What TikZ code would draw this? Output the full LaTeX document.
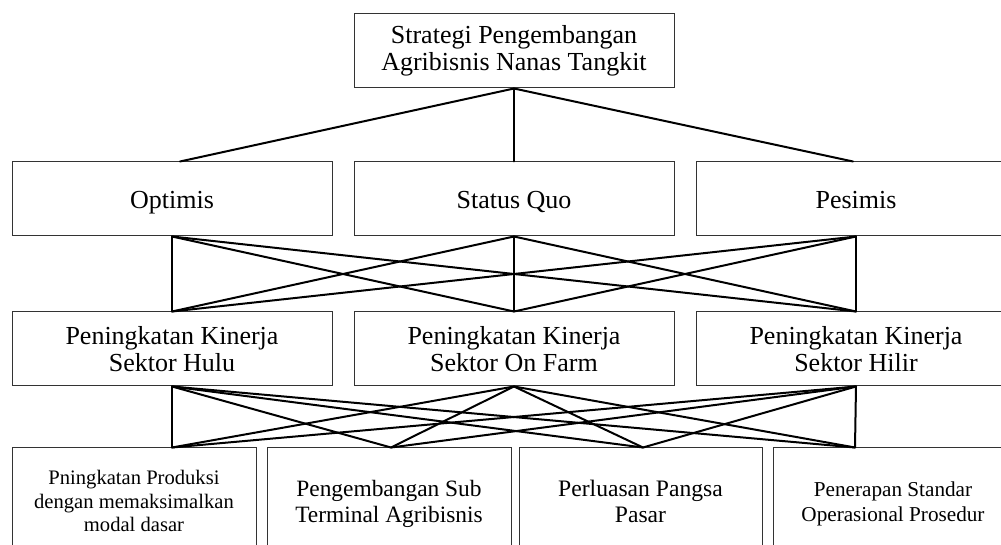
\documentclass[tikz,border=0pt]{standalone}
\usepackage{fontspec}
\setmainfont{Liberation Serif}
\newcommand{\pu}{0.75pt}
\tikzset{
  box/.style={draw=black!80, line width=0.75pt, inner sep=0pt, align=center},
  big/.style={font=\fontsize{19.5pt}{20.6pt}\selectfont},
  oneline/.style={text height=14pt, text depth=0pt},
  conn/.style={draw=black, line width=1.5pt, line cap=round, line join=round},
}
\begin{document}
\begin{tikzpicture}[x=0.75pt,y=-0.75pt]
\useasboundingbox (0,0) rectangle (1001,545);
\clip (0,0) rectangle (1001,545);
% level 1
\node[box,big,minimum width=320*\pu,minimum height=74*\pu] (T) at (514,51) {Strategi Pengembangan\\Agribisnis Nanas Tangkit};
% level 2
\node[box,big,oneline,minimum width=320*\pu,minimum height=74*\pu] (A) at (172,199) {Optimis};
\node[box,big,oneline,minimum width=320*\pu,minimum height=74*\pu] (B) at (514,199) {Status Quo};
\node[box,big,oneline,minimum width=320*\pu,minimum height=74*\pu] (C) at (856,199) {Pesimis};
% level 3
\node[box,big,minimum width=320*\pu,minimum height=74*\pu] (E) at (172,349) {Peningkatan Kinerja\\Sektor Hulu};
\node[box,big,minimum width=320*\pu,minimum height=74*\pu] (F) at (514,349) {Peningkatan Kinerja\\Sektor On Farm};
\node[box,big,minimum width=320*\pu,minimum height=74*\pu] (G) at (856,349) {Peningkatan Kinerja\\Sektor Hilir};
% level 4
\node[box,font=\fontsize{15.45pt}{17.5pt}\selectfont,minimum width=244*\pu,minimum height=106*\pu] (D1) at (134,501) {Pningkatan Produksi\\dengan memaksimalkan\\modal dasar};
\node[box,font=\fontsize{17.55pt}{19.5pt}\selectfont,minimum width=244*\pu,minimum height=111*\pu] (D2) at (389,503.5) {Pengembangan Sub\\Terminal Agribisnis};
\node[box,font=\fontsize{17.7pt}{19.5pt}\selectfont,minimum width=243*\pu,minimum height=106*\pu] (D3) at (640.5,501) {Perluasan Pangsa\\Pasar};
\node[box,font=\fontsize{15.9pt}{18.4pt}\selectfont,minimum width=240*\pu,minimum height=112*\pu] (D4) at (893,504) {Penerapan Standar\\Operasional Prosedur};
% connectors level 1 -> 2
\draw[conn] (T.south) -- ([xshift=8*\pu]A.north);
\draw[conn] (T.south) -- (B.north);
\draw[conn] (T.south) -- ([xshift=-3*\pu]C.north);
% connectors level 2 -> 3
\foreach \s in {A,B,C}{
  \foreach \t in {E,F,G}{
    \draw[conn] (\s.south) -- (\t.north);
  }
}
% connectors level 3 -> 4
\foreach \s in {E,F,G}{
  \draw[conn] (\s.south) -- ([xshift=38*\pu]D1.north);
  \draw[conn] (\s.south) -- ([xshift=2*\pu]D2.north);
  \draw[conn] (\s.south) -- ([xshift=2.5*\pu]D3.north);
  \draw[conn] (\s.south) -- ([xshift=-38*\pu]D4.north);
}
\end{tikzpicture}
\end{document}
